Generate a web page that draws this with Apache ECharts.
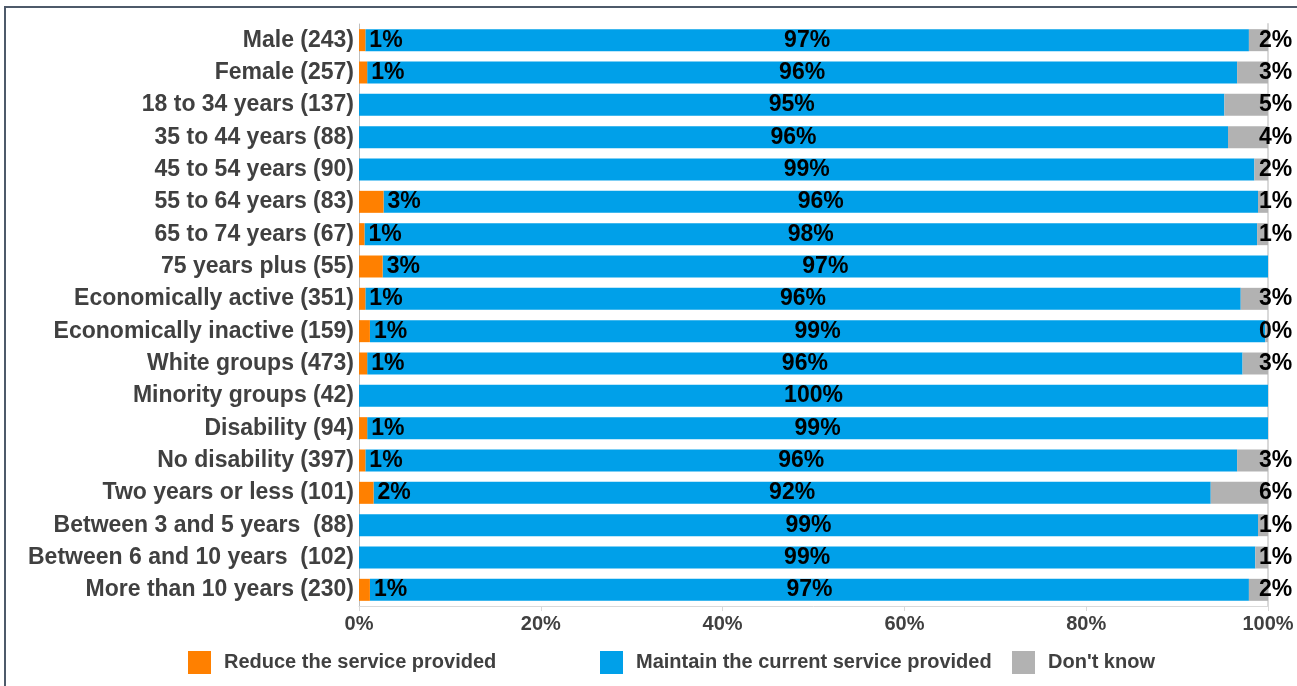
<!DOCTYPE html>
<html>
<head>
<meta charset="utf-8">
<script src="https://cdn.jsdelivr.net/npm/echarts@6/dist/echarts.min.js"></script>
<style>html,body{margin:0;padding:0;background:#fff;}#c{width:1297px;height:686px;}</style>
</head>
<body>
<div id="c"></div>
<script>
const categories = ["Male (243)","Female (257)","18 to 34 years (137)","35 to 44 years (88)","45 to 54 years (90)","55 to 64 years (83)","65 to 74 years (67)","75 years plus (55)","Economically active (351)","Economically inactive (159)","White groups (473)","Minority groups (42)","Disability (94)","No disability (397)","Two years or less (101)","Between 3 and 5 years  (88)","Between 6 and 10 years  (102)","More than 10 years (230)"];
const reduceVals = [0.7,0.9,null,null,null,2.7,0.6,2.6,0.7,1.2,0.9,null,0.9,0.7,1.6,null,null,1.2];
const maintainVals = [97.2,95.7,95.2,95.6,98.5,96.2,98.2,97.4,96.3,98.5,96.3,100,99.1,95.9,92.1,98.9,98.6,96.7];
const dontKnowVals = [2.1,3.4,4.8,4.4,1.5,1.1,1.2,null,3.0,0.3,2.8,null,null,3.4,6.3,1.1,1.4,2.1];
const xTicks = ["0%","20%","40%","60%","80%","100%"];
const seriesNames = ["Reduce the service provided","Maintain the current service provided","Don't know"];
const colors = ["#FF8000","#00A0E9","#B2B2B2"];

const font = "'Liberation Sans', Arial, sans-serif";
const chart = echarts.init(document.getElementById('c'));
const lblFmt = p => (p.value == null ? '' : Math.round(p.value) + '%');
const valLabel = {show:true, formatter: lblFmt, color:'#000', fontWeight:'bold', fontSize:23, fontFamily:font};

function legendAt(name, left){
  return {data:[name], left:left, top:651, padding:0, itemWidth:23, itemHeight:23, icon:'rect',
    textStyle:{fontSize:20, fontWeight:'bold', color:'#404040', fontFamily:font, padding:[0,0,0,8]},
    selectedMode:false};
}

chart.setOption({
  animation:false,
  backgroundColor:'#fff',
  graphic:[{type:'rect', shape:{x:5, y:7, width:1400, height:800}, style:{fill:'none', stroke:'#4e5a6a', lineWidth:2}, silent:true}],
  grid:{left:359, right:29, top:24, bottom:80, containLabel:false},
  legend:[legendAt(seriesNames[0],188), legendAt(seriesNames[1],600), legendAt(seriesNames[2],1012)],
  xAxis:{type:'value', min:0, max:100, interval:20,
    axisLabel:{formatter: v => xTicks[v/20], fontSize:20, fontWeight:'bold', color:'#404040', fontFamily:font, margin:8},
    axisLine:{show:true, lineStyle:{color:'#d9d9d9'}},
    axisTick:{show:true, length:5, lineStyle:{color:'#d9d9d9'}},
    splitLine:{show:false}},
  yAxis:[{type:'category', data:categories, inverse:true,
    axisLabel:{fontSize:23, fontWeight:'bold', color:'#404040', fontFamily:font, margin:5},
    axisLine:{show:true, lineStyle:{color:'#bfbfbf'}},
    axisTick:{show:false}},
    {type:'category', data:categories, inverse:true, position:'right',
    axisLabel:{show:false}, axisLine:{show:true, lineStyle:{color:'#d9d9d9', width:2}}, axisTick:{show:false}}],
  series:[
    {name:seriesNames[0], type:'bar', stack:'s', data:reduceVals, barWidth:22, itemStyle:{color:colors[0]},
      label:Object.assign({position:'right', distance:4}, valLabel), z:3},
    {name:seriesNames[1], type:'bar', stack:'s', data:maintainVals, barWidth:22, itemStyle:{color:colors[1]},
      label:Object.assign({position:'inside'}, valLabel), z:2},
    {name:seriesNames[2], type:'bar', stack:'s', data:dontKnowVals, barWidth:22, itemStyle:{color:colors[2]},
      label:Object.assign({position:'right', distance:-9}, valLabel), z:2}
  ]
});
</script>
</body>
</html>
